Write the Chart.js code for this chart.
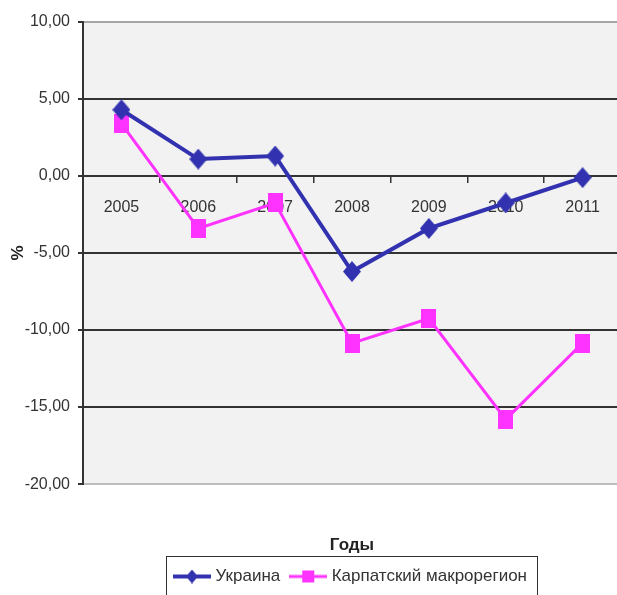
<!DOCTYPE html>
<html><head><meta charset="utf-8">
<script src="https://cdn.jsdelivr.net/npm/chart.js@4"></script>
<style>html,body{margin:0;padding:0;overflow:hidden;background:#fff}#wrap{width:621px;height:595px}</style>
</head><body><div id="wrap"><canvas id="c" width="621" height="595"></canvas></div>
<script>
const categories = ['2005','2006','2007','2008','2009','2010','2011'];
const ukraine = [4.3, 1.1, 1.3, -6.2, -3.4, -1.75, -0.1];
const carpathian = [3.4, -3.4, -1.75, -10.85, -9.25, -15.8, -10.85];
const seriesNames = ['Украина', 'Карпатский макрорегион'];
const yMin = -20, yMax = 10, yStep = 5;
const xTitle = 'Годы', yTitle = '%';

const BLUE = '#3232b0', PINK = '#ff33ff';
const FONT = '"Liberation Sans", Arial, sans-serif';

function diamondImg(w, h, color) {
  const c = document.createElement('canvas'); c.width = w; c.height = h;
  const x = c.getContext('2d'); x.fillStyle = color; x.beginPath();
  x.moveTo(w/2, 0); x.lineTo(w, h/2); x.lineTo(w/2, h); x.lineTo(0, h/2); x.closePath(); x.fill();
  return c;
}
function rectImg(w, h, color) {
  const c = document.createElement('canvas'); c.width = w; c.height = h;
  const x = c.getContext('2d'); x.fillStyle = color; x.fillRect(0, 0, w, h);
  return c;
}
function legendImg(kind, color, lw) {
  const W = 38, H = 14;
  const c = document.createElement('canvas'); c.width = W; c.height = H;
  const x = c.getContext('2d');
  x.strokeStyle = color; x.lineWidth = lw; x.beginPath(); x.moveTo(0, H/2); x.lineTo(W, H/2); x.stroke();
  x.fillStyle = color;
  if (kind === 'd') { x.beginPath(); x.moveTo(W/2, 0); x.lineTo(W/2+6, H/2); x.lineTo(W/2, H); x.lineTo(W/2-6, H/2); x.closePath(); x.fill(); }
  else { x.fillRect(W/2-6, 1, 12, H-2); }
  return c;
}
const markerU = diamondImg(18, 21, BLUE);
const markerC = rectImg(15, 19, PINK);
const legU = legendImg('d', BLUE, 4);
const legC = legendImg('s', PINK, 3);

const bgPlugin = {
  id: 'bg',
  beforeDraw(chart) {
    const {ctx, chartArea: a} = chart;
    ctx.save(); ctx.fillStyle = '#f2f2f2';
    ctx.fillRect(a.left, a.top, a.right - a.left, a.bottom - a.top);
    ctx.restore();
  }
};
const legendBox = {
  id: 'legendBox',
  afterDraw(chart) {
    const lg = chart.legend; if (!lg || !lg.legendHitBoxes) return;
    const hb = lg.legendHitBoxes;
    const l = Math.min(...hb.map(h => h.left)), r = Math.max(...hb.map(h => h.left + h.width));
    const cy = hb[0].top + hb[0].height / 2;
    const ctx = chart.ctx; ctx.save(); ctx.strokeStyle = '#333'; ctx.lineWidth = 1;
    ctx.strokeRect(Math.round(l - 11) + 0.5, Math.round(cy - 21) + 0.5, Math.round(r - l + 21), 60);
    ctx.restore();
  }
};

new Chart(document.getElementById('c'), {
  type: 'line',
  data: {
    labels: categories,
    datasets: [
      { label: seriesNames[0], data: ukraine, borderColor: BLUE, backgroundColor: BLUE, borderWidth: 4,
        pointStyle: markerU, pointRadius: 9, pointHoverRadius: 9, tension: 0 },
      { label: seriesNames[1], data: carpathian, borderColor: PINK, backgroundColor: PINK, borderWidth: 3,
        pointStyle: markerC, pointRadius: 9, pointHoverRadius: 9, tension: 0 }
    ]
  },
  options: {
    responsive: false, animation: false, events: [],
    layout: { autoPadding: false, padding: { left: 0, right: 0, top: 22, bottom: 0 } },
    scales: {
      x: {
        type: 'category', position: { y: 0 }, offset: true,
        afterFit(s) { s.paddingLeft = 0; s.paddingRight = 0; },
        grid: { offset: true, drawOnChartArea: false, drawTicks: true, tickLength: 6, color: '#333', lineWidth: 1.5 },
        border: { display: true, color: '#333', width: 2 },
        ticks: { color: '#333', font: { family: FONT, size: 16 }, padding: 16, maxRotation: 0, autoSkip: false }
      },
      y: {
        min: yMin, max: yMax,
        afterFit(s) { s.width = 83; },
        grid: {
          color: (c) => c.tick.value === yMax ? '#a6a6a6' : (c.tick.value === yMin ? '#bdbdbd' : '#333'),
          tickColor: '#333', lineWidth: 2, tickLength: 5, drawTicks: true
        },
        border: { display: true, color: '#333', width: 2 },
        ticks: { stepSize: yStep, color: '#333', padding: 8, font: { family: FONT, size: 16 },
          callback: (v) => v.toFixed(2).replace('.', ',') },
        title: { display: true, text: yTitle, color: '#222', font: { family: FONT, size: 17, weight: 'bold' }, padding: { top: 8, bottom: 0 } }
      }
    },
    plugins: {
      tooltip: { enabled: false },
      legend: {
        position: 'bottom', fullSize: false,
        title: { display: true, text: xTitle, color: '#222', font: { family: FONT, size: 17, weight: 'bold' }, padding: { top: 52.5, bottom: -2 } },
        labels: {
          usePointStyle: true, pointStyleWidth: 30, padding: 13, color: '#333',
          font: { family: FONT, size: 17 },
          generateLabels(chart) {
            const items = Chart.defaults.plugins.legend.labels.generateLabels(chart);
            items.forEach((it, i) => { it.pointStyle = i === 0 ? legU : legC; });
            return items;
          }
        }
      }
    }
  },
  plugins: [bgPlugin, legendBox]
});
</script></body></html>
